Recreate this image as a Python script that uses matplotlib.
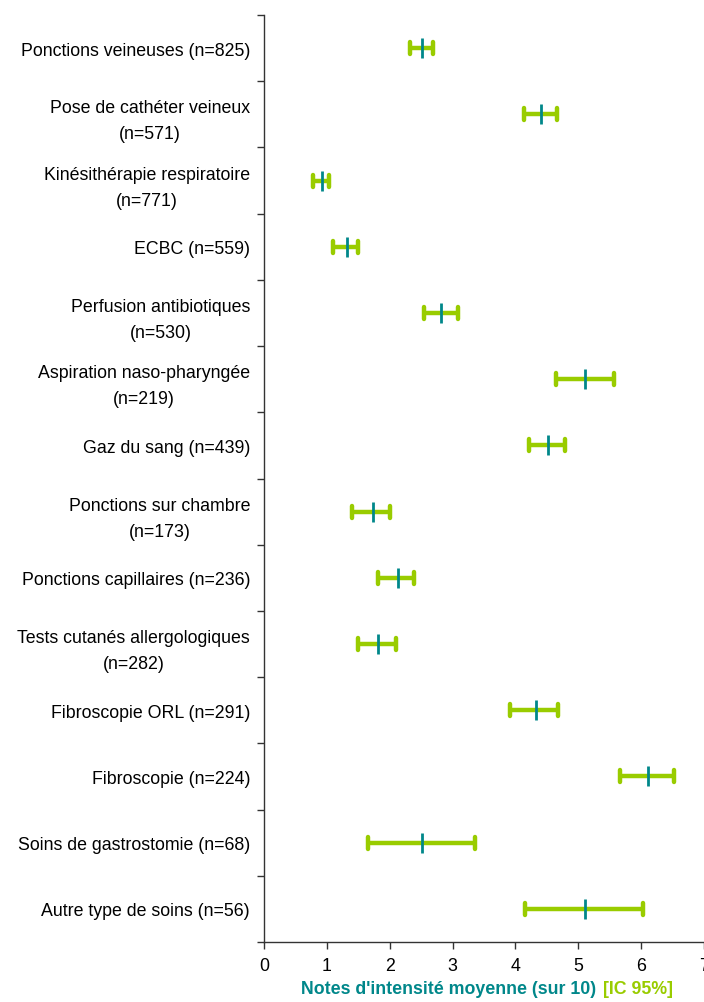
import numpy as np
import matplotlib
matplotlib.use("Agg")
import matplotlib.pyplot as plt
from matplotlib.ticker import FixedLocator
from matplotlib.markers import MarkerStyle

plt.rcParams['font.family'] = ['Liberation Sans', 'DejaVu Sans']

soins = ["Ponctions veineuses (n=825)",
         "Pose de cathéter veineux\n(n=571)",
         "Kinésithérapie respiratoire\n(n=771)",
         "ECBC (n=559)",
         "Perfusion antibiotiques\n(n=530)",
         "Aspiration naso-pharyngée\n(n=219)",
         "Gaz du sang (n=439)",
         "Ponctions sur chambre\n(n=173)",
         "Ponctions capillaires (n=236)",
         "Tests cutanés allergologiques\n(n=282)",
         "Fibroscopie ORL (n=291)",
         "Fibroscopie (n=224)",
         "Soins de gastrostomie (n=68)",
         "Autre type de soins (n=56)"]
moyenne = [2.51, 4.41, 0.92, 1.32, 2.82, 5.10, 4.52, 1.73, 2.13, 1.82, 4.32, 6.11, 2.51, 5.10]
ic_bas = [2.32, 4.14, 0.78, 1.10, 2.54, 4.64, 4.22, 1.40, 1.82, 1.50, 3.92, 5.67, 1.66, 4.15]
ic_haut = [2.69, 4.66, 1.03, 1.50, 3.08, 5.57, 4.79, 2.01, 2.39, 2.10, 4.68, 6.53, 3.35, 6.03]
xticks = [0, 1, 2, 3, 4, 5, 6, 7]

vert = '#99CC00'
bleu = '#00878A'
fs = 12.8

fig = plt.figure(figsize=(7.04, 10.03), dpi=100)
ax = fig.add_axes([264/704, 1 - 943/1003, 440/704, (943 - 16)/1003])

y = np.arange(len(soins))
m = np.array(moyenne)
err = [m - np.array(ic_bas), np.array(ic_haut) - m]

eb = ax.errorbar(m, y, xerr=err, fmt='none', ecolor=vert, elinewidth=3.2,
                 capsize=4.8, capthick=3.2, zorder=2)
for c in eb[1]:
    c.set_marker(MarkerStyle('|', capstyle='round'))
    c.set_markersize(8.5)
ax.plot(m, y, ls='none', marker='|', markersize=14.5, mew=2.0, color=bleu, zorder=3)

ax.set_xlim(0, 7)
ax.set_ylim(len(soins) - 0.5, -0.5)
ax.set_xticks(xticks)
ax.set_yticks(y)
ax.set_yticklabels(soins)
ax.yaxis.set_minor_locator(FixedLocator(np.arange(len(soins) + 1) - 0.5))
ax.tick_params(axis='y', which='major', length=0, pad=10, labelsize=fs)
ax.tick_params(axis='y', which='minor', length=5, width=1, color='#333333')
ax.tick_params(axis='x', length=5, width=1, color='#333333', labelsize=fs, pad=6)
for lbl in ax.get_yticklabels():
    lbl.set_multialignment('center')
    lbl.set_linespacing(1.7)
for s in ['top', 'right']:
    ax.spines[s].set_visible(False)
for s in ['left', 'bottom']:
    ax.spines[s].set_color('#333333')
    ax.spines[s].set_linewidth(1)

# xlabel in two colours
fig.canvas.draw()
r = fig.canvas.get_renderer()
ylab = 1 - 990/1003
t1 = fig.text(0, ylab, "Notes d'intensité moyenne (sur 10)", color=bleu,
              fontsize=fs, fontweight='bold', va='center')
t2 = fig.text(0, ylab, "[IC 95%]", color=vert,
              fontsize=fs, fontweight='bold', va='center')
w1 = t1.get_window_extent(r).width
w2 = t2.get_window_extent(r).width
gap = 7
x0 = 487 - (w1 + gap + w2) / 2
t1.set_x(x0 / 704)
t2.set_x((x0 + w1 + gap) / 704)

fig.savefig('out.png', dpi=100)
